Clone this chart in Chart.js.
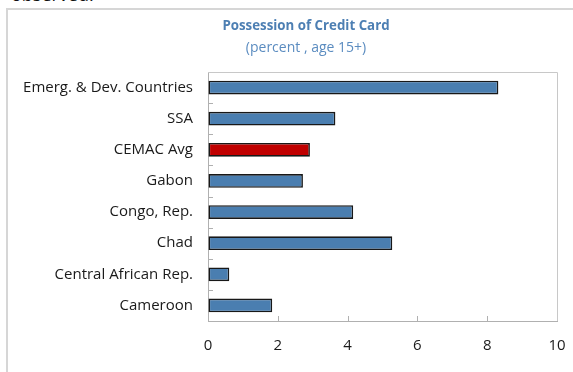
<!DOCTYPE html>
<html>
<head>
<meta charset="utf-8">
<script src="https://cdn.jsdelivr.net/npm/chart.js@4/dist/chart.umd.min.js"></script>
<style>
  body { margin: 0; background: #fff; width: 573px; height: 372px; overflow: hidden; position: relative; }
  #cut { position: absolute; left: 11px; top: -18px; font: 18px "Open Sans", sans-serif; color: #111; }
  #frame { position: absolute; left: 6px; top: 8px; width: 700px; height: 500px; border: 2px solid #d6d6d6; }
  #box { position: absolute; left: 8px; top: 10px; width: 596px; height: 362px; }
  .tit { position: absolute; left: 106px; width: 400px; text-align: center; font-family: "Open Sans", sans-serif; line-height: 1; }
  #t1 { top: 19px; font-size: 13.3px; font-weight: bold; color: #4d7fb3; }
  #t2 { top: 40px; font-size: 14px; color: #5b8cc0; }
</style>
</head>
<body>
<div id="cut">observed.</div>
<div id="frame"></div>
<div id="box"><canvas id="grafico"></canvas></div>
<div id="t1" class="tit">Possession of Credit Card</div>
<div id="t2" class="tit">(percent , age 15+)</div>
<script>
const categorias = [
  "Emerg. & Dev. Countries",
  "SSA",
  "CEMAC Avg",
  "Gabon",
  "Congo, Rep.",
  "Chad",
  "Central African Rep.",
  "Cameroon",
];
const valores = [8.32, 3.65, 2.92, 2.72, 4.16, 5.28, 0.61, 1.84];
const cores = ["#4a7eb0", "#4a7eb0", "#c00000", "#4a7eb0", "#4a7eb0", "#4a7eb0", "#4a7eb0", "#4a7eb0"];
const xTicks = [0, 2, 4, 6, 8, 10];

// moldura do gráfico e tracinhos para dentro
const moldura = {
  id: "moldura",
  afterDraw(chart) {
    const { ctx, chartArea: a, scales } = chart;
    ctx.save();
    ctx.strokeStyle = "#c8c8c8";
    ctx.lineWidth = 1;
    ctx.beginPath();
    ctx.moveTo(a.left, a.top + 0.5);
    ctx.lineTo(a.right + 0.5, a.top + 0.5);
    ctx.lineTo(a.right + 0.5, a.bottom);
    ctx.stroke();
    ctx.strokeStyle = "#b0b0b0";
    ctx.beginPath();
    const y = scales.y;
    for (let i = 1; i < categorias.length; i++) {
      const p = Math.round((y.getPixelForTick(i - 1) + y.getPixelForTick(i)) / 2) + 0.5;
      ctx.moveTo(a.left, p);
      ctx.lineTo(a.left + 5, p);
    }
    const x = scales.x;
    xTicks.slice(1, -1).forEach((v) => {
      const p = Math.round(x.getPixelForValue(v)) + 0.5;
      ctx.moveTo(p, a.bottom);
      ctx.lineTo(p, a.bottom - 5);
    });
    ctx.stroke();
    ctx.restore();
  },
};

new Chart(document.getElementById("grafico"), {
  type: "bar",
  data: {
    labels: categorias,
    datasets: [
      {
        data: valores,
        backgroundColor: cores,
        borderColor: "#181818",
        borderWidth: 1.6,
        borderSkipped: false,
        barPercentage: 0.44,
        categoryPercentage: 1,
      },
    ],
  },
  options: {
    indexAxis: "y",
    responsive: true,
    maintainAspectRatio: false,
    animation: false,
    layout: { padding: { left: 8, right: 47, top: 62, bottom: 16 } },
    plugins: {
      legend: { display: false },
      tooltip: { enabled: false },
    },
    scales: {
      x: {
        min: 0,
        max: 10,
        afterBuildTicks: (s) => { s.ticks = xTicks.map((v) => ({ value: v })); },
        afterFit: (s) => { s.height = 35; },
        ticks: { color: "#1a1a1a", font: { family: "Open Sans", size: 15 }, padding: 16 },
        grid: { drawOnChartArea: false, drawTicks: false },
        border: { color: "#b0b0b0", width: 1 },
      },
      y: {
        afterFit: (s) => { s.width = 192; },
        ticks: { color: "#1a1a1a", font: { family: "Open Sans", size: 15 }, padding: 15 },
        grid: { drawOnChartArea: false, drawTicks: false },
        border: { color: "#b0b0b0", width: 1 },
      },
    },
  },
  plugins: [moldura],
});
</script>
</body>
</html>
